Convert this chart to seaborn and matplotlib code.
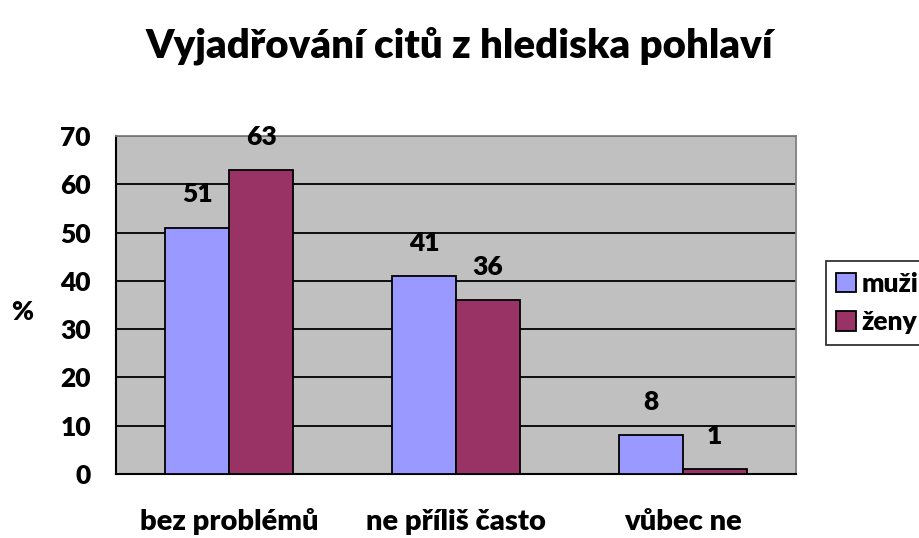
import pandas as pd
import seaborn as sns
import matplotlib.pyplot as plt

categories = ["bez problémů", "ne příliš často", "vůbec ne"]
muzi = [51, 41, 8]
zeny = [63, 36, 1]
groups = ["muži", "ženy"]

data = pd.DataFrame({
    "kategorie": categories * 2,
    "pohlavi": [groups[0]] * 3 + [groups[1]] * 3,
    "procenta": muzi + zeny,
})

sns.set_style("white")
plt.rcParams['font.family'] = ['Lato', 'DejaVu Sans']
plt.rcParams['font.weight'] = 'heavy'
plt.rcParams['text.color'] = 'black'
plt.rcParams['axes.labelcolor'] = 'black'
plt.rcParams['xtick.color'] = 'black'
plt.rcParams['ytick.color'] = 'black'
W = "heavy"

fig = plt.figure(figsize=(9.19, 5.38), dpi=100)
ax = fig.add_axes([0.1262, 0.119, 0.74, 0.628])
ax.set_facecolor("#C0C0C0")

ax = sns.barplot(data=data, x="kategorie", y="procenta", hue="pohlavi",
                 palette=["#9999FF", "#993366"], saturation=1, width=0.565,
                 edgecolor="black", linewidth=1.3, ax=ax, zorder=3)

ax.set_ylim(0, 70)
ax.set_xlim(-0.5, 2.5)
ax.set_yticks(range(0, 71, 10))
ax.yaxis.grid(True, color="black", linewidth=1.3, zorder=1)
ax.set_axisbelow(True)

# category ticks sit between groups
ax.set_xticks([-0.5, 0.5, 1.5, 2.5])
ax.set_xticklabels([])
ax.tick_params(axis="x", direction="out", length=8, width=1.3, color="black")
ax.tick_params(axis="y", direction="out", length=8, width=1.3, color="black",
               labelsize=19, pad=10)
for lab in ax.get_yticklabels():
    lab.set_fontweight(W)
for i, c in enumerate(categories):
    ax.text(i, -9.9, c, ha="center", va="center", fontsize=21, fontweight=W)

for side in ["left", "bottom"]:
    ax.spines[side].set_color("black")
    ax.spines[side].set_linewidth(1.5)
for side in ["top", "right"]:
    ax.spines[side].set_color("#808080")
    ax.spines[side].set_linewidth(1.3)

for cont in ax.containers:
    for bar in cont:
        h = bar.get_height()
        ax.annotate(f"{h:.0f}", (bar.get_x() + bar.get_width() / 2, h),
                    xytext=(0, 24), textcoords="offset points",
                    ha="center", va="center", fontsize=19, fontweight=W)

ax.set_xlabel("")
ax.set_ylabel("%", rotation=0, fontsize=19, fontweight=W, va="center", ha="center")
ax.yaxis.set_label_coords(-0.138, 0.479)

leg = ax.legend(loc="center left", bbox_to_anchor=(0.884, 0.437),
                bbox_transform=fig.transFigure, frameon=True, fancybox=False,
                edgecolor="black", fontsize=19, handlelength=0.75, handleheight=0.75,
                handletextpad=0.2, borderpad=0.4, labelspacing=0.55)
leg.get_frame().set_linewidth(1.3)
for t in leg.get_texts():
    t.set_fontweight(W)

fig.suptitle("Vyjadřování citů z hlediska pohlaví", fontsize=29, fontweight=W,
             x=0.5, y=0.95)

plt.savefig("out.png", dpi=100)
